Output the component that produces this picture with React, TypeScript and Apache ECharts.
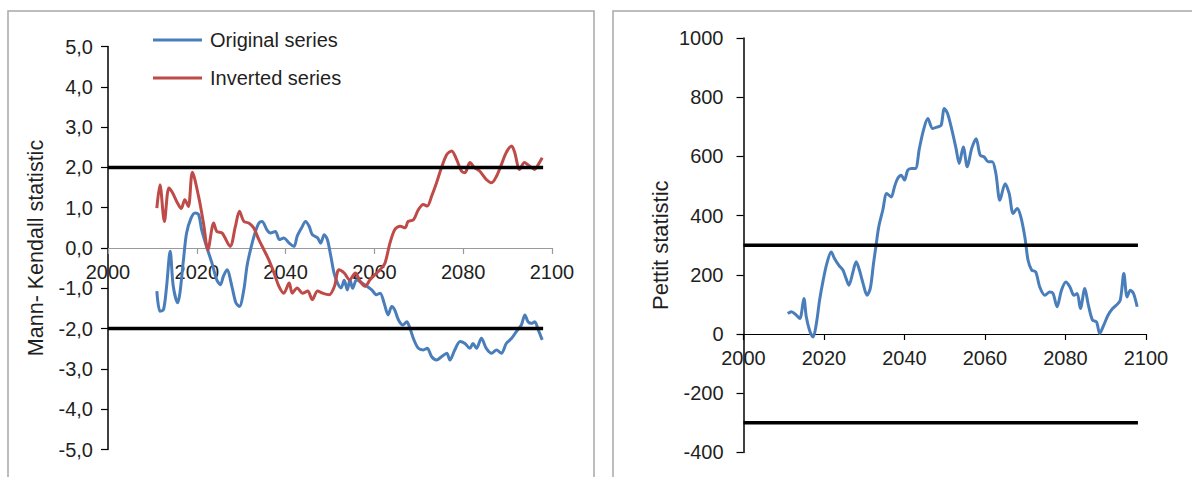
import React, { useEffect, useRef } from "react";
import * as echarts from "echarts";

// ---------- Data ----------
const xTickYears = [2000, 2020, 2040, 2060, 2080, 2100];

const originalYears = [
  2011.0, 2011.7, 2012.5, 2013.2, 2014.0, 2014.7, 2015.7, 2016.2, 2017.0, 2017.7,
  2018.7, 2019.6, 2020.4, 2021.1, 2022.3, 2023.4, 2024.5, 2025.3, 2026.0, 2026.8,
  2027.9, 2028.8, 2029.6, 2030.6, 2031.3, 2032.1, 2033.1, 2034.0, 2034.7, 2035.8,
  2036.6, 2037.7, 2038.6, 2039.6, 2040.8, 2041.9, 2042.6, 2043.6, 2044.5, 2045.3,
  2046.0, 2047.2, 2047.9, 2048.7, 2049.4, 2050.2, 2050.9, 2051.7, 2052.5, 2053.2,
  2053.9, 2054.5, 2055.1, 2056.0, 2057.2, 2058.3, 2059.4, 2060.5, 2061.3, 2062.2,
  2063.1, 2063.9, 2064.6, 2065.4, 2066.4, 2067.3, 2068.0, 2068.9, 2069.9, 2071.0,
  2071.9, 2072.9, 2074.0, 2075.1, 2076.3, 2077.0, 2078.1, 2079.3, 2080.4, 2081.5,
  2082.2, 2083.0, 2084.1, 2085.2, 2086.4, 2087.5, 2088.6, 2089.7, 2090.9, 2092.0,
  2093.1, 2093.9, 2094.6, 2095.4, 2096.1, 2096.9, 2097.8,
];
const originalValues = [
  -1.07, -1.57, -1.53, -0.95, -0.08, -0.95, -1.36, -1.12, -0.29, 0.37,
  0.74, 0.87, 0.83, 0.45, 0.0, -0.37, -0.79, -0.91, -0.7, -0.54,
  -0.95, -1.36, -1.45, -1.03, -0.45, -0.04, 0.37, 0.62, 0.66, 0.45,
  0.37, 0.41, 0.21, 0.25, 0.12, 0.04, 0.29, 0.5, 0.66, 0.54,
  0.33, 0.25, 0.12, 0.33, 0.21, -0.21, -0.62, -0.87, -0.99, -0.8,
  -1.04, -0.79, -1.0, -0.79, -0.87, -0.95, -1.04, -1.16, -1.12, -1.37,
  -1.66, -1.45, -1.54, -1.78, -1.91, -1.83, -1.99, -2.28, -2.49, -2.53,
  -2.49, -2.7, -2.78, -2.7, -2.61, -2.78, -2.53, -2.32, -2.37, -2.49,
  -2.37, -2.49, -2.24, -2.49, -2.61, -2.53, -2.61, -2.37, -2.24, -2.07,
  -1.91, -1.66, -1.83, -1.87, -1.83, -2.03, -2.28,
];

const invertedYears = [
  2011.0, 2011.7, 2012.7, 2013.7, 2014.5, 2015.5, 2016.5, 2017.3, 2018.1, 2019.0,
  2020.4, 2021.5, 2022.5, 2023.8, 2024.5, 2025.7, 2027.5, 2028.7, 2029.6, 2030.6,
  2031.7, 2032.8, 2034.0, 2035.1, 2036.2, 2037.4, 2038.5, 2039.6, 2040.8, 2041.5,
  2042.6, 2043.8, 2045.0, 2046.0, 2047.2, 2048.3, 2049.8, 2051.0, 2052.0, 2053.2,
  2054.4, 2055.7, 2056.8, 2057.9, 2059.0, 2060.5, 2061.6, 2062.4, 2063.5, 2064.6,
  2065.8, 2066.9, 2067.6, 2068.8, 2069.9, 2071.0, 2071.9, 2072.9, 2074.0, 2075.1,
  2076.3, 2077.4, 2078.5, 2079.6, 2080.4, 2081.5, 2082.6, 2083.7, 2085.2, 2086.4,
  2087.5, 2088.6, 2089.7, 2090.9, 2091.6, 2092.7, 2093.8, 2095.0, 2096.1, 2096.9,
  2097.8,
];
const invertedValues = [
  0.99, 1.57, 0.66, 1.49, 1.38, 1.15, 0.98, 1.2, 1.03, 1.88,
  1.28, 0.62, -0.04, 0.62, 0.41, 0.37, 0.04, 0.54, 0.91, 0.66,
  0.62, 0.5, 0.2, -0.04, -0.29, -0.62, -0.95, -1.12, -0.87, -1.12,
  -0.99, -1.12, -1.07, -1.28, -1.07, -1.12, -1.16, -0.95, -0.54, -0.62,
  -0.79, -0.62, -0.83, -0.95, -0.79, -0.62, -0.5, -0.37, 0.12, 0.46,
  0.54, 0.5, 0.66, 0.7, 0.95, 1.08, 1.04, 1.29, 1.62, 1.99,
  2.32, 2.41, 2.2, 1.91, 1.87, 2.12, 1.99, 1.91, 1.7, 1.62,
  1.78, 2.07, 2.37, 2.53, 2.37, 1.95, 2.12, 2.03, 1.95, 2.07,
  2.24,
];

const pettitYears = [
  2011.0, 2011.9, 2013.1, 2014.0, 2015.0, 2015.6, 2016.4, 2017.3, 2018.1, 2018.9,
  2019.8, 2020.7, 2021.8, 2022.6, 2023.7, 2024.7, 2025.5, 2026.2, 2027.2, 2028.0,
  2028.8, 2029.7, 2030.7, 2031.5, 2032.3, 2033.0, 2033.6, 2034.6, 2035.6, 2036.7,
  2037.5, 2038.3, 2039.2, 2040.0, 2040.8, 2041.7, 2042.7, 2043.7, 2044.7, 2045.8,
  2047.0, 2048.3, 2049.1, 2049.9, 2050.7, 2051.8, 2052.8, 2053.6, 2054.6, 2055.6,
  2056.7, 2057.8, 2058.8, 2059.8, 2060.8, 2061.8, 2062.7, 2063.7, 2065.0, 2066.0,
  2067.0, 2068.0, 2068.9, 2069.9, 2070.7, 2071.6, 2072.6, 2073.6, 2074.9, 2076.1,
  2076.9, 2077.9, 2079.0, 2080.1, 2081.1, 2082.1, 2082.9, 2083.7, 2084.8, 2085.6,
  2086.7, 2087.7, 2088.5, 2089.5, 2090.6, 2091.7, 2092.6, 2093.6, 2094.5, 2095.3,
  2096.1, 2096.9, 2097.8,
];
const pettitValues = [
  69, 75, 64, 52, 120, 58, 13, -10, 35, 114,
  182, 238, 277, 255, 232, 216, 187, 165, 210, 244,
  216, 171, 131, 154, 238, 306, 362, 418, 475, 463,
  497, 525, 536, 520, 553, 559, 559, 627, 688, 728,
  694, 700, 705, 762, 745, 688, 627, 576, 632, 565,
  627, 660, 604, 598, 582, 582, 542, 452, 508, 475,
  407, 424, 396, 328, 249, 216, 210, 159, 131, 142,
  137, 92, 148, 176, 159, 131, 137, 86, 154, 103,
  47, 41, 2, 30, 64, 86, 97, 114, 204, 125,
  148, 137, 92,
];

const mkThresholds = [2, -2];
const pettitThresholds = [300, -300];
const thresholdSpan = [2000, 2098];

const BLUE = "#4A7EBB";
const RED = "#BE4B48";
const FONT = "'Liberation Sans', Arial, sans-serif";
const TEXT = "#1f1f1f";

const pairs = (xs: number[], ys: number[]) => xs.map((x, i) => [x, ys[i]]);

export default function App() {
  const ref = useRef<HTMLDivElement>(null);

  useEffect(() => {
    if (!ref.current) return;
    const chart = echarts.init(ref.current, undefined, { renderer: "svg" });

    const thresholdSeries = (vals: number[], xi: number) =>
      vals.map((v) => ({
        type: "line",
        xAxisIndex: xi,
        yAxisIndex: xi,
        data: thresholdSpan.map((x) => [x, v]),
        symbol: "none",
        lineStyle: { color: "#000", width: 3.5 },
        silent: true,
        z: 5,
      }));

    // x axes are drawn at value 0 of their y axis (offset from the grid bottom)
    const xAxisBase = (gridIndex: number, lineColor: string, offset: number) => ({
      type: "value",
      gridIndex,
      position: "bottom",
      offset,
      min: xTickYears[0],
      max: xTickYears[xTickYears.length - 1],
      interval: 20,
      axisLine: { show: true, onZero: false, lineStyle: { color: lineColor, width: 1.2 } },
      axisTick: { show: true, length: 6, lineStyle: { color: lineColor, width: 1.2 } },
      axisLabel: {
        color: TEXT,
        fontSize: 20,
        fontFamily: FONT,
        margin: 14,
        formatter: (v: number) => String(v),
      },
      splitLine: { show: false },
    });

    chart.setOption({
      animation: false,
      backgroundColor: "#fff",
      graphic: [
        {
          type: "rect",
          shape: { x: 8, y: 11, width: 586, height: 490 },
          style: { fill: "none", stroke: "#a8a8a8", lineWidth: 1.5 },
          silent: true,
        },
        {
          type: "rect",
          shape: { x: 613, y: 11, width: 600, height: 490 },
          style: { fill: "none", stroke: "#a8a8a8", lineWidth: 1.5 },
          silent: true,
        },
      ],
      legend: {
        orient: "vertical",
        left: 153,
        top: 29.5,
        padding: 0,
        icon: "rect",
        itemWidth: 49,
        itemHeight: 3,
        itemGap: 17,
        data: ["Original series", "Inverted series"],
        textStyle: { color: TEXT, fontSize: 20, fontFamily: FONT, lineHeight: 21, padding: [0, 0, 0, 3] },
      },
      grid: [
        { left: 108, top: 46.5, width: 444, height: 403, outerBoundsMode: "none", containLabel: false },
        { left: 743.5, top: 38, width: 402.5, height: 414.4, outerBoundsMode: "none", containLabel: false },
      ],
      xAxis: [xAxisBase(0, "#9a9a9a", -201.5), xAxisBase(1, "#000", -118.4)],
      yAxis: [
        {
          type: "value",
          gridIndex: 0,
          min: -5,
          max: 5,
          interval: 1,
          name: "Mann- Kendall statistic",
          nameLocation: "middle",
          nameGap: 61,
          nameTextStyle: { color: TEXT, fontSize: 21.5, fontFamily: FONT },
          axisLine: { show: true, onZero: false, lineStyle: { color: "#000", width: 1.5 } },
          axisTick: { show: true, length: 7, lineStyle: { color: "#000", width: 1.2 } },
          axisLabel: {
            color: TEXT,
            fontSize: 20,
            fontFamily: FONT,
            margin: 15,
            formatter: (v: number) => v.toFixed(1).replace(".", ","),
          },
          splitLine: { show: false },
        },
        {
          type: "value",
          gridIndex: 1,
          min: -400,
          max: 1000,
          interval: 200,
          name: "Pettit statistic",
          nameLocation: "middle",
          nameGap: 72,
          nameTextStyle: { color: TEXT, fontSize: 22, fontFamily: FONT },
          axisLine: { show: true, onZero: false, lineStyle: { color: "#000", width: 1.5 } },
          axisTick: { show: true, length: 7, lineStyle: { color: "#000", width: 1.2 } },
          axisLabel: {
            color: TEXT,
            fontSize: 20,
            fontFamily: FONT,
            margin: 20,
            formatter: (v: number) => String(v),
          },
          splitLine: { show: false },
        },
      ],
      series: [
        {
          name: "Original series",
          type: "line",
          xAxisIndex: 0,
          yAxisIndex: 0,
          data: pairs(originalYears, originalValues),
          symbol: "none",
          smooth: 0.3,
          lineStyle: { color: BLUE, width: 3 },
          itemStyle: { color: BLUE },
          z: 3,
        },
        {
          name: "Inverted series",
          type: "line",
          xAxisIndex: 0,
          yAxisIndex: 0,
          data: pairs(invertedYears, invertedValues),
          symbol: "none",
          smooth: 0.3,
          lineStyle: { color: RED, width: 3 },
          itemStyle: { color: RED },
          z: 3,
        },
        ...thresholdSeries(mkThresholds, 0),
        {
          name: "Pettit",
          type: "line",
          xAxisIndex: 1,
          yAxisIndex: 1,
          data: pairs(pettitYears, pettitValues),
          symbol: "none",
          smooth: 0.3,
          lineStyle: { color: BLUE, width: 3 },
          itemStyle: { color: BLUE },
          z: 3,
        },
        ...thresholdSeries(pettitThresholds, 1),
      ],
    });

    return () => chart.dispose();
  }, []);

  return (
    <div
      ref={ref}
      style={{ position: "fixed", left: 0, top: 0, width: 1192, height: 477, background: "#fff" }}
    />
  );
}
